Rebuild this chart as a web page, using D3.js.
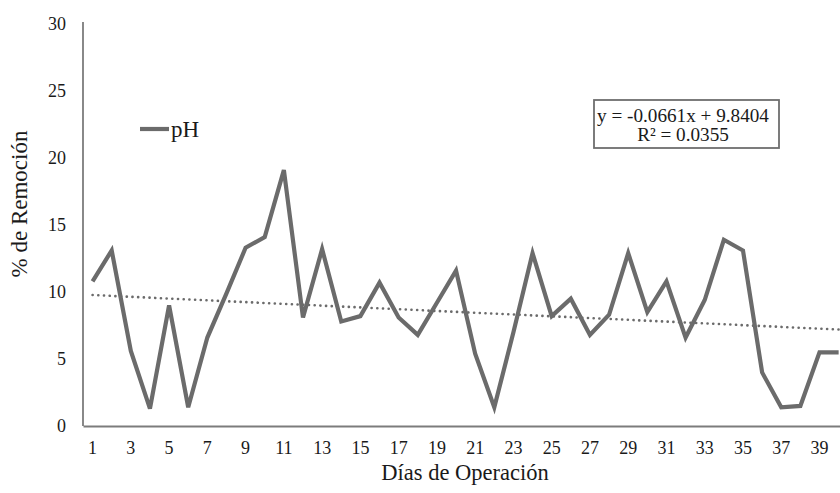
<!DOCTYPE html>
<html>
<head>
<meta charset="utf-8">
<script src="https://cdn.jsdelivr.net/npm/d3@7/dist/d3.min.js"></script>
<style>
  html, body { margin: 0; padding: 0; background: #fff; }
  svg { display: block; font-family: "Liberation Serif", "Times New Roman", serif; }
</style>
</head>
<body>
<svg id="chart" width="840" height="493"></svg>
<script>
// Días de operación (1..40) y % de remoción de pH
const days = d3.range(1, 41);
const phRemoval = [
  10.8, 13.1, 5.6, 1.3, 9.0, 1.4, 6.6, 9.9, 13.3, 14.1,
  19.1, 8.1, 13.2, 7.8, 8.2, 10.7, 8.1, 6.8, 9.2, 11.6,
  5.4, 1.4, 7.0, 12.9, 8.2, 9.5, 6.8, 8.3, 12.9, 8.5,
  10.8, 6.6, 9.4, 13.9, 13.1, 4.0, 1.4, 1.5, 5.5, 5.5
];
const yTicks = [0, 5, 10, 15, 20, 25, 30];
const xTickDays = days.filter(d => d % 2 === 1);
// Tendencia lineal ajustada
const trendSlope = -0.0661;
const trendIntercept = 9.8404;
const trendLabel = "y = -0.0661x + 9.8404";
const r2Label = "R² = 0.0355";
const seriesName = "pH";
const xTitle = "Días de Operación";
const yTitle = "% de Remoción";

const svg = d3.select("#chart");
const lineColor = "#6b6b6b";
const textColor = "#1a1a1a";
const axisColor = "#7c7c7c";

const plotLeft = 83, plotBottom = 426, plotTop = 24;
const step = 19.13;

const x = d3.scaleBand()
  .domain(days)
  .range([plotLeft, plotLeft + step * days.length]);
const cx = d => x(d) + x.bandwidth() / 2;

const y = d3.scaleLinear().domain([0, 30]).range([plotBottom, plotTop]);

// Eje Y
const yAxis = svg.append("g")
  .attr("transform", `translate(${plotLeft},0)`)
  .call(d3.axisLeft(y).tickValues(yTicks).tickSize(0).tickPadding(17));
yAxis.select(".domain").attr("stroke", axisColor).attr("stroke-width", 1.8)
  .attr("d", `M0,${plotTop - 2}V${plotBottom}`);
yAxis.selectAll("text")
  .attr("font-family", "Liberation Serif, serif")
  .attr("font-size", 18).attr("fill", textColor);

// Eje X
const xAxis = svg.append("g")
  .attr("transform", `translate(0,${plotBottom})`)
  .call(d3.axisBottom(x).tickValues(xTickDays).tickSize(0).tickPadding(15));
xAxis.select(".domain").attr("stroke", axisColor).attr("stroke-width", 1.8);
xAxis.selectAll("text")
  .attr("font-family", "Liberation Serif, serif")
  .attr("font-size", 18).attr("fill", textColor);

// Línea de tendencia punteada
const trend = d => trendSlope * d + trendIntercept;
svg.append("line")
  .attr("x1", cx(days[0])).attr("y1", y(trend(days[0])))
  .attr("x2", cx(days[days.length - 1])).attr("y2", y(trend(days[days.length - 1])))
  .attr("stroke", lineColor).attr("stroke-width", 2.6)
  .attr("stroke-dasharray", "0.1 5.6").attr("stroke-linecap", "round");

// Serie de pH
svg.append("path")
  .datum(days.map((d, i) => [d, phRemoval[i]]))
  .attr("fill", "none")
  .attr("stroke", lineColor)
  .attr("stroke-width", 4.2)
  .attr("stroke-linejoin", "miter")
  .attr("d", d3.line().x(d => cx(d[0])).y(d => y(d[1])));

// Leyenda
const legend = svg.append("g").attr("transform", "translate(140,129)");
legend.append("line").attr("x1", 0).attr("x2", 29).attr("y1", 0).attr("y2", 0)
  .attr("stroke", lineColor).attr("stroke-width", 4.2);
legend.append("text").attr("x", 31).attr("y", 8)
  .attr("font-size", 23).attr("fill", textColor).text(seriesName);

// Cuadro de ecuación
const box = svg.append("g");
box.append("rect").attr("x", 594).attr("y", 100).attr("width", 185).attr("height", 48)
  .attr("fill", "#fff").attr("stroke", "#6e6e6e").attr("stroke-width", 1.8);
box.append("text").attr("x", 683).attr("y", 122).attr("text-anchor", "middle")
  .attr("font-size", 19.2).attr("fill", textColor).text(trendLabel);
box.append("text").attr("x", 683).attr("y", 141).attr("text-anchor", "middle")
  .attr("font-size", 19.2).attr("fill", textColor).text(r2Label);

// Títulos de ejes
svg.append("text").attr("x", 465).attr("y", 480).attr("text-anchor", "middle")
  .attr("font-size", 22.5).attr("fill", textColor).text(xTitle);
svg.append("text")
  .attr("transform", "translate(27,204) rotate(-90)")
  .attr("text-anchor", "middle")
  .attr("font-size", 23).attr("fill", textColor).text(yTitle);
</script>
</body>
</html>
